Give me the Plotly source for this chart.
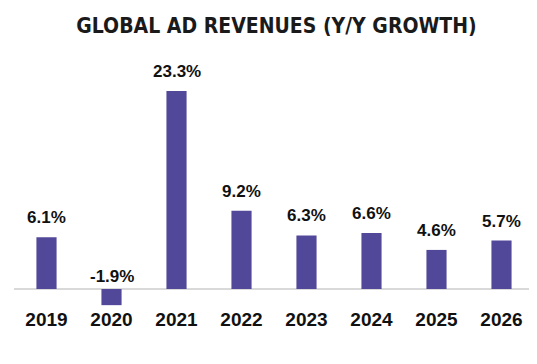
import plotly.graph_objects as go

years = ["2019", "2020", "2021", "2022", "2023", "2024", "2025", "2026"]
growth = [6.1, -1.9, 23.3, 9.2, 6.3, 6.6, 4.6, 5.7]
labels = ["6.1%", "-1.9%", "23.3%", "9.2%", "6.3%", "6.6%", "4.6%", "5.7%"]

bar_color = "#524899"

fig = go.Figure()
fig.add_trace(go.Bar(x=years, y=growth, marker_color=bar_color, marker_line_width=0,
                     hoverinfo="skip"))

for i, (v, lab) in enumerate(zip(growth, labels)):
    fig.add_annotation(x=i, y=max(v, 0), text="<b>" + lab + "</b>", showarrow=False,
                       xref="x", yref="y",
                       yanchor="bottom", yshift=8 if v >= 0 else 1,
                       font=dict(family="Liberation Sans", size=17, color="#111111"))

fig.update_layout(
    width=537, height=364,
    margin=dict(l=6, r=11, t=52, b=66),
    paper_bgcolor="white", plot_bgcolor="white",
    showlegend=False,
    bargap=0.69,
    title=dict(text="<b>GLOBAL AD REVENUES (Y/Y GROWTH)</b>", x=0.5, xanchor="center",
               y=0.952, yanchor="middle",
               font=dict(family="DejaVu Sans Condensed, Liberation Sans", size=21, color="#1a1a1a")),
    xaxis=dict(type="category", showgrid=False, showline=False, ticks="", ticklen=0,
               zeroline=False, automargin=False,
               tickfont=dict(family="Liberation Sans", size=19, color="#111111"),
               tickprefix="<b>", ticksuffix="</b>"),
    yaxis=dict(range=[-2.0, 26.95], showgrid=False, showticklabels=False, automargin=False,
               zeroline=True, zerolinecolor="#D9D9D9", zerolinewidth=1.5),
)

fig.write_html("out.html")
